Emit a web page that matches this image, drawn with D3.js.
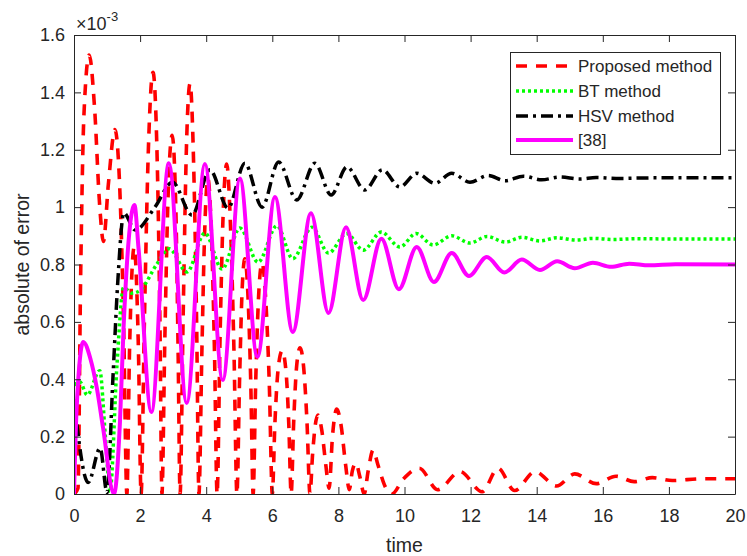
<!DOCTYPE html>
<html>
<head>
<meta charset="utf-8">
<script src="https://cdn.jsdelivr.net/npm/d3@7"></script>
<style>
  html, body { margin: 0; padding: 0; background: #fff; }
  svg { display: block; }
  text { font-family: "Liberation Sans", Arial, Helvetica, sans-serif; fill: #262626; }
</style>
</head>
<body>
<svg id="chart" width="747" height="556"></svg>
<script>
// ---------- data (values in units of 1e-3) ----------
const xTicks = [0, 2, 4, 6, 8, 10, 12, 14, 16, 18, 20];
const yTicks = [0, 0.2, 0.4, 0.6, 0.8, 1.0, 1.2, 1.4, 1.6];
const yTickLabels = ["0", "0.2", "0.4", "0.6", "0.8", "1", "1.2", "1.4", "1.6"];
const seriesNames = ["Proposed method", "BT method", "HSV method", "[38]"];

const proposed = [
  [0,0],[0.12,0.02],[0.2,0.75],[0.3,1.32],[0.46,1.53],[0.62,1.35],[0.78,1.0],[0.89,0.88],[1.04,1.08],[1.24,1.27],[1.4,1.02],[1.5,0.6],[1.6,0],
  [1.68,0.5],[1.82,0.86],[1.95,0.5],[2.03,0],
  [2.13,0.6],[2.25,1.2],[2.39,1.47],[2.52,1.15],[2.6,0.6],[2.66,0],
  [2.75,0.55],[2.85,1.05],[2.97,1.25],[3.08,1.0],[3.15,0.5],[3.21,0],
  [3.3,0.6],[3.4,1.2],[3.51,1.43],[3.62,1.15],[3.71,0.6],[3.78,0],
  [3.87,0.5],[3.95,0.9],[4.05,1.1],[4.16,0.9],[4.25,0.5],[4.33,0],
  [4.42,0.55],[4.52,1.0],[4.62,1.15],[4.73,0.95],[4.84,0.5],[4.93,0],
  [5.01,0.4],[5.09,0.72],[5.17,0.82],[5.26,0.7],[5.35,0.38],[5.42,0],
  [5.5,0.4],[5.6,0.72],[5.69,0.805],[5.8,0.68],[5.91,0.38],[6.0,0],
  [6.08,0.25],[6.18,0.44],[6.3,0.5],[6.42,0.42],[6.5,0.24],[6.57,0],
  [6.65,0.26],[6.74,0.45],[6.84,0.51],[6.95,0.44],[7.05,0.25],[7.14,0],
  [7.22,0.14],[7.3,0.24],[7.38,0.275],[7.5,0.22],[7.62,0.1],[7.72,0.02],
  [7.82,0.2],[7.95,0.296],[8.08,0.24],[8.22,0.1],[8.33,0.015],
  [8.42,0.08],[8.53,0.108],[8.65,0.06],[8.78,0],
  [8.9,0.08],[9.05,0.153],[9.2,0.1],[9.4,0.03],[9.62,0],
  [9.95,0.05],[10.45,0.09],[11.0,0.015],[11.68,0.078],[12.35,0.008],[12.83,0.09],
  [13.33,0.012],[13.95,0.078],[14.6,0.028],[15.15,0.07],[15.8,0.036],[16.4,0.062],
  [16.95,0.043],[17.5,0.057],[18.1,0.047],[19,0.053],[20,0.053]
];

const bt = [
  [0,0.38],[0.18,0.39],[0.4,0.345],[0.78,0.43],[0.95,0.2],[1.09,0.01],[1.3,0.45],[1.5,0.72],[1.75,0.70],[2.0,0.71],
  [2.5,0.8],[2.88,0.855],[3.42,0.774],[3.96,0.91],[4.48,0.784],[5.02,0.927],[5.57,0.808],[6.14,0.935],
  [6.62,0.82],[7.2,0.93],[7.7,0.84],[8.25,0.908],[8.75,0.85],[9.3,0.913],[9.86,0.861],[10.35,0.908],
  [10.87,0.868],[11.43,0.9],[11.98,0.875],[12.5,0.898],[13.05,0.878],[13.55,0.895],[14.1,0.882],
  [14.6,0.893],[15.2,0.885],[15.7,0.891],[16.3,0.887],[17,0.89],[18,0.889],[20,0.889]
];

const hsv = [
  [0,0.33],[0.43,0.04],[0.79,0.16],[1.0,0.005],[1.18,0.41],[1.33,0.75],[1.51,0.98],[1.85,0.92],[2.45,1.0],
  [2.98,1.087],[3.57,0.972],[4.11,1.13],[4.66,0.997],[5.17,1.153],[5.69,1.0],[6.19,1.157],[6.74,1.025],
  [7.29,1.153],[7.78,1.042],[8.26,1.14],[8.8,1.06],[9.33,1.13],[9.86,1.07],[10.37,1.118],[10.92,1.083],
  [11.43,1.118],[11.98,1.087],[12.53,1.11],[13.05,1.092],[13.6,1.108],[14.15,1.095],[14.7,1.105],
  [15.3,1.098],[15.8,1.103],[16.4,1.1],[17.5,1.102],[20,1.102]
];

const ref38 = [
  [0,0],[0.08,0.3],[0.28,0.53],[0.5,0.47],[0.69,0.37],[0.88,0.23],[1.21,0],[1.39,0.25],[1.5,0.58],[1.69,0.93],
  [1.83,1.007],[1.95,0.86],[2.34,0.286],[2.87,1.153],[3.41,0.317],[3.96,1.15],[4.5,0.397],[5.02,1.10],
  [5.55,0.478],[6.08,1.035],[6.62,0.565],[7.17,0.979],[7.7,0.631],[8.23,0.93],[8.75,0.676],[9.3,0.89],
  [9.83,0.714],[10.37,0.861],[10.89,0.739],[11.43,0.84],[11.95,0.76],[12.49,0.826],[13.02,0.772],
  [13.55,0.817],[14.1,0.781],[14.62,0.811],[15.15,0.787],[15.7,0.806],[16.25,0.792],[16.8,0.803],
  [17.4,0.797],[18.2,0.801],[20,0.8]
];

// ---------- layout ----------
const svg = d3.select("#chart");
const L = 74, R = 735, T = 35, B = 494;
const x = d3.scaleLinear().domain([0, 20]).range([L, R]);
const y = d3.scaleLinear().domain([0, 1.6]).range([B, T]);
const axisColor = "#262626";

svg.append("rect").attr("x", 0).attr("y", 0).attr("width", 747).attr("height", 556).attr("fill", "#fff");

svg.append("defs").append("clipPath").attr("id", "clip")
  .append("rect").attr("x", L).attr("y", T).attr("width", R - L).attr("height", B - T);

const styles = [
  { data: proposed, color: "#ff0000", width: 3.6, dash: "11,9" },
  { data: bt,       color: "#00ff00", width: 3.5, dash: "3,3" },
  { data: hsv,      color: "#000000", width: 3.5, dash: "12,5,3,5" },
  { data: ref38,    color: "#ff00ff", width: 4, dash: null }
];

const line = d3.line().x(d => x(d[0])).y(d => y(d[1])).curve(d3.curveMonotoneX);
const plot = svg.append("g").attr("clip-path", "url(#clip)");
styles.forEach(s => {
  plot.append("path")
    .attr("d", line(s.data))
    .attr("fill", "none")
    .attr("stroke", s.color)
    .attr("stroke-width", s.width)
    .attr("stroke-dasharray", s.dash)
    .attr("stroke-linejoin", "round");
});

// ---------- axes ----------
function styleAxis(g) {
  g.selectAll("path").attr("stroke", axisColor).attr("stroke-width", 1);
  g.selectAll("line").attr("stroke", axisColor).attr("stroke-width", 1);
  g.selectAll("text").attr("fill", axisColor).style("font-size", "18px")
    .style("font-family", '"Liberation Sans", Arial, sans-serif');
}

svg.append("g").attr("transform", `translate(0,${B})`)
  .call(d3.axisBottom(x).tickValues(xTicks).tickFormat(d3.format("d")).tickSizeInner(-7).tickSizeOuter(0).tickPadding(15))
  .call(styleAxis);
svg.append("g").attr("transform", `translate(0,${T})`)
  .call(d3.axisTop(x).tickValues(xTicks).tickFormat("").tickSizeInner(-7).tickSizeOuter(0))
  .call(styleAxis);
svg.append("g").attr("transform", `translate(${L},0)`)
  .call(d3.axisLeft(y).tickValues(yTicks).tickFormat((d, i) => yTickLabels[i]).tickSizeInner(-7).tickSizeOuter(0).tickPadding(9))
  .call(styleAxis);
svg.append("g").attr("transform", `translate(${R},0)`)
  .call(d3.axisRight(y).tickValues(yTicks).tickFormat("").tickSizeInner(-7).tickSizeOuter(0))
  .call(styleAxis);

// exponent label
const ex = svg.append("text").attr("x", 76).attr("y", 30).style("font-size", "18px").attr("fill", axisColor);
ex.append("tspan").text("\u00d710");
ex.append("tspan").attr("dy", -9).style("font-size", "13px").text("-3");

// axis titles
svg.append("text").attr("x", (L + R) / 2).attr("y", 552).attr("text-anchor", "middle")
  .style("font-size", "19.5px").attr("fill", axisColor).text("time");
svg.append("text").attr("transform", `translate(29,${(T + B) / 2}) rotate(-90)`).attr("text-anchor", "middle")
  .style("font-size", "19.5px").attr("fill", axisColor).text("absolute of error");

// ---------- legend ----------
const lg = svg.append("g");
lg.append("rect").attr("x", 510.5).attr("y", 52.5).attr("width", 210).attr("height", 102)
  .attr("fill", "#fff").attr("stroke", axisColor).attr("stroke-width", 1);
const rowY = [66, 91, 116, 140];
styles.forEach((s, i) => {
  lg.append("line").attr("x1", 516).attr("x2", 573).attr("y1", rowY[i]).attr("y2", rowY[i])
    .attr("stroke", s.color).attr("stroke-width", s.width).attr("stroke-dasharray", s.dash);
  lg.append("text").attr("x", 578).attr("y", rowY[i]).attr("dy", "0.35em")
    .style("font-size", "17px").attr("fill", "#000").text(seriesNames[i]);
});
</script>
</body>
</html>
